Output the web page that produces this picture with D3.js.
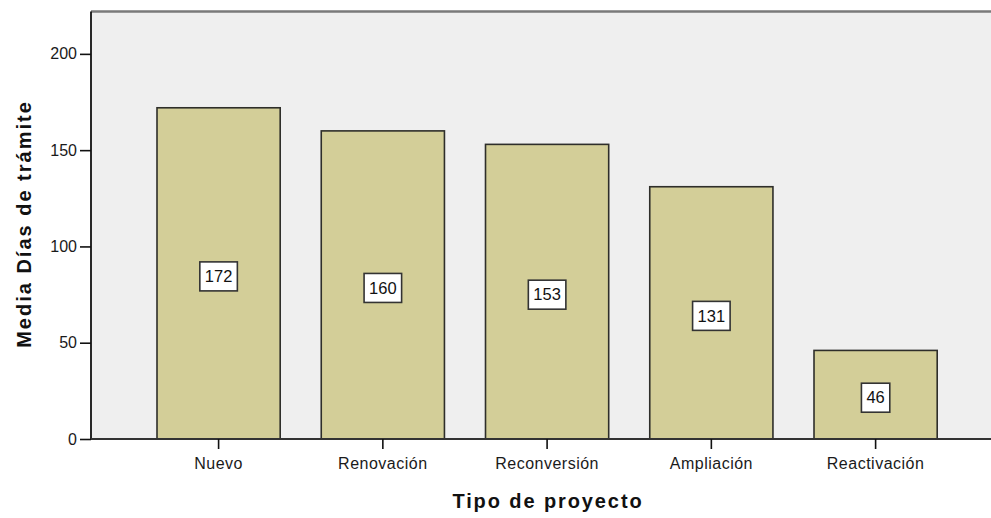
<!DOCTYPE html>
<html>
<head>
<meta charset="utf-8">
<script src="https://cdn.jsdelivr.net/npm/d3@7"></script>
<style>
  html, body { margin: 0; padding: 0; background: #ffffff; }
  svg { display: block; font-family: "Liberation Sans", Arial, sans-serif; }
</style>
</head>
<body>
<svg id="chart" width="991" height="518"></svg>
<script>
const categories = ["Nuevo", "Renovación", "Reconversión", "Ampliación", "Reactivación"];
const values = [172, 160, 153, 131, 46];
const yTicks = [0, 50, 100, 150, 200];
const yTitle = "Media Días de trámite";
const xTitle = "Tipo de proyecto";

const svg = d3.select("#chart");
const plot = { left: 91, right: 991, top: 11.5, bottom: 439 };

const x = d3.scaleBand().domain(categories).range([157, 937.2]).paddingInner(0.25).paddingOuter(0);
const y = d3.scaleLinear().domain([0, 222]).range([plot.bottom, plot.top]);

// plot background
svg.append("rect")
  .attr("x", plot.left).attr("y", plot.top)
  .attr("width", plot.right - plot.left).attr("height", plot.bottom - plot.top)
  .attr("fill", "#efefef");

// top border
svg.append("line")
  .attr("x1", plot.left).attr("x2", plot.right)
  .attr("y1", plot.top).attr("y2", plot.top)
  .attr("stroke", "#7a7a7a").attr("stroke-width", 2.5);

// bars
svg.append("g").selectAll("rect").data(values).join("rect")
  .attr("x", (d, i) => x(categories[i]))
  .attr("y", d => y(d))
  .attr("width", x.bandwidth())
  .attr("height", d => y(0) - y(d))
  .attr("fill", "#d3ce98")
  .attr("stroke", "#2e2e2a")
  .attr("stroke-width", 1.6);

// value labels
const lab = svg.append("g").selectAll("g").data(values).join("g")
  .attr("transform", (d, i) => `translate(${x(categories[i]) + x.bandwidth() / 2},${(y(d) + y(0)) / 2 + 3})`);
lab.each(function(d) {
  const g = d3.select(this);
  const t = g.append("text")
    .attr("text-anchor", "middle")
    .attr("dy", "0.35em")
    .attr("font-size", 16.5)
    .attr("fill", "#111")
    .text(d3.format("d")(d));
  const w = t.node().getComputedTextLength();
  g.insert("rect", "text")
    .attr("x", -w / 2 - 5).attr("y", -14.5)
    .attr("width", w + 10).attr("height", 29)
    .attr("fill", "#ffffff")
    .attr("stroke", "#333")
    .attr("stroke-width", 1.6);
});

// y axis
const yAxis = svg.append("g")
  .attr("transform", `translate(${plot.left},0)`)
  .call(d3.axisLeft(y).tickValues(yTicks).tickSize(11).tickPadding(3).tickFormat(d3.format("d")));
yAxis.select(".domain").attr("stroke", "#111").attr("stroke-width", 1.8)
  .attr("d", `M0,${plot.top}V${plot.bottom}`);
yAxis.selectAll(".tick line").attr("stroke", "#111").attr("stroke-width", 1.6);
yAxis.selectAll(".tick text").attr("font-size", 16).attr("fill", "#1a1a1a")
  .attr("font-family", "'Liberation Sans', Arial, sans-serif");

// x axis
const xAxis = svg.append("g")
  .attr("transform", `translate(0,${plot.bottom})`)
  .call(d3.axisBottom(x).tickSize(10).tickPadding(9));
xAxis.select(".domain").attr("stroke", "#333").attr("stroke-width", 2.2)
  .attr("d", `M${plot.left},0H${plot.right}`);
xAxis.selectAll(".tick line").attr("stroke", "#111").attr("stroke-width", 1.6);
xAxis.selectAll(".tick text").attr("font-size", 16).attr("fill", "#1a1a1a")
  .attr("letter-spacing", "0.5px")
  .attr("font-family", "'Liberation Sans', Arial, sans-serif");

// axis titles
svg.append("text")
  .attr("transform", "translate(31,224) rotate(-90)")
  .attr("text-anchor", "middle")
  .attr("font-size", 20).attr("font-weight", "bold")
  .attr("letter-spacing", "2px")
  .attr("fill", "#111")
  .text(yTitle);

svg.append("text")
  .attr("x", 548).attr("y", 508)
  .attr("text-anchor", "middle")
  .attr("font-size", 20).attr("font-weight", "bold")
  .attr("letter-spacing", "1.9px")
  .attr("fill", "#111")
  .text(xTitle);
</script>
</body>
</html>
